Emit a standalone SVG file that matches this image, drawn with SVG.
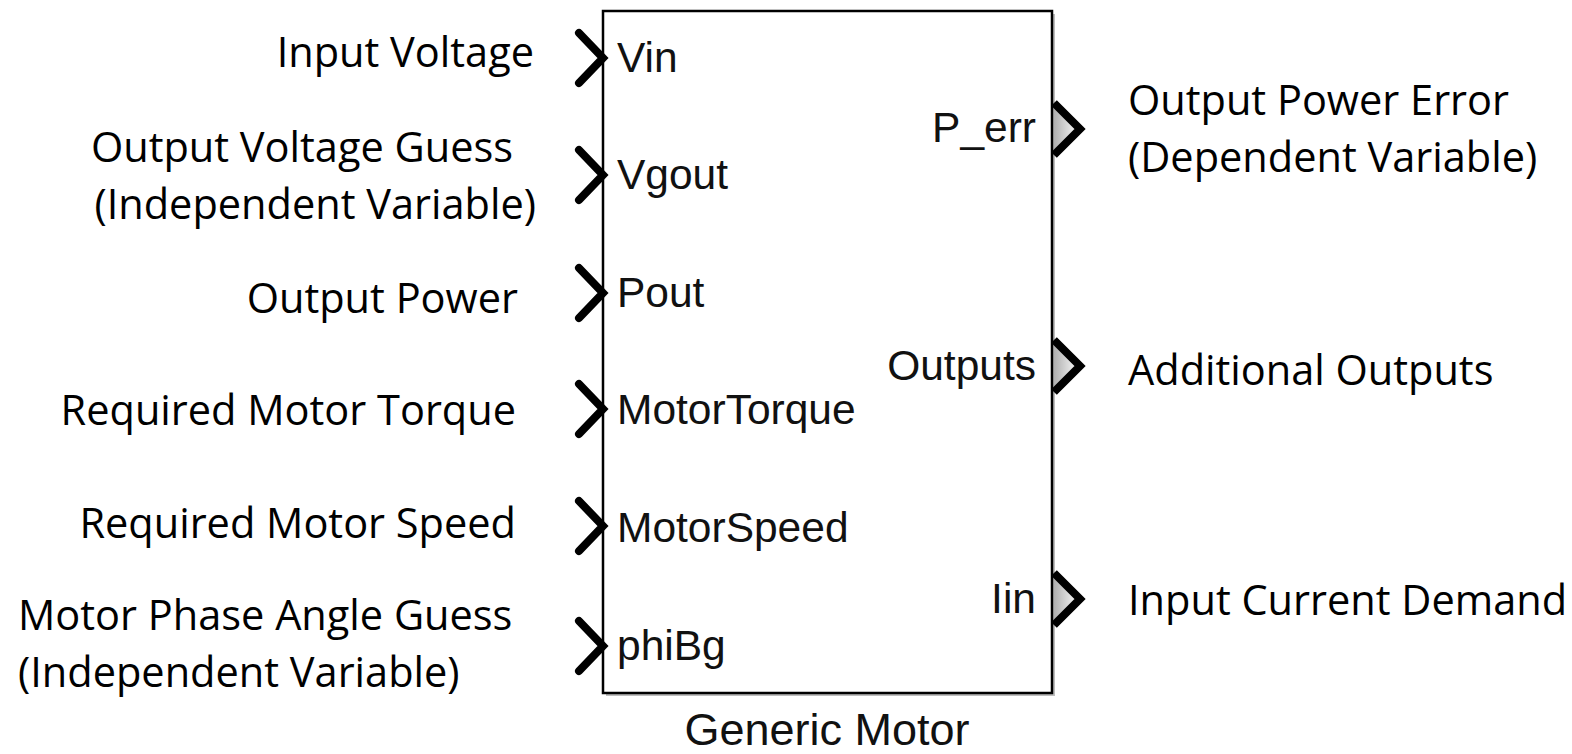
<svg xmlns="http://www.w3.org/2000/svg" width="1572" height="754" viewBox="0 0 1572 754">
<style>
.lbl{font-family:"Open Sans","Noto Sans",sans-serif;font-size:41.5px;fill:#000}
.port{font-family:"Liberation Sans",Arial,sans-serif;font-size:42.5px;fill:#111}
.title{font-family:"Liberation Sans",Arial,sans-serif;font-size:45px;fill:#111}
.chev{fill:none;stroke:#000;stroke-width:8;stroke-linecap:round;stroke-linejoin:miter}
.ochev{fill:url(#og);stroke:#000;stroke-width:8;stroke-linecap:butt;stroke-linejoin:miter}
</style>
<defs>
<linearGradient id="og" x1="0" y1="0" x2="1" y2="0">
<stop offset="0" stop-color="#b0b0b0"/>
<stop offset="1" stop-color="#ffffff"/>
</linearGradient>
</defs>
<rect width="1572" height="754" fill="#fff"/>
<g id="block">
<rect x="606" y="14" width="449" height="682" fill="#bdbdbd"/>
<rect x="603" y="11" width="449" height="682" fill="#fff" stroke="#000" stroke-width="2.5"/>
<text class="port" x="617" y="72">Vin</text>
<text class="port" x="617" y="189">Vgout</text>
<text class="port" x="617" y="307">Pout</text>
<text class="port" x="617" y="424">MotorTorque</text>
<text class="port" x="617" y="542">MotorSpeed</text>
<text class="port" x="617" y="660">phiBg</text>
<text class="port" x="1036" y="142" text-anchor="end">P_err</text>
<text class="port" x="1036" y="380" text-anchor="end">Outputs</text>
<text class="port" x="1036" y="613" text-anchor="end">Iin</text>
<text class="title" x="827" y="745" text-anchor="middle">Generic Motor</text>
</g>
<g id="connectors">
<polyline class="chev" points="579,33 603,58 579,83"/>
<polyline class="chev" points="579,150 603,175 579,200"/>
<polyline class="chev" points="579,268 603,293 579,318"/>
<polyline class="chev" points="579,384 603,409 579,434"/>
<polyline class="chev" points="579,501 603,526 579,551"/>
<polyline class="chev" points="579,621 603,646 579,671"/>
<polyline class="ochev" points="1054,103 1080,129 1054,155"/>
<polyline class="ochev" points="1054,340 1080,366 1054,392"/>
<polyline class="ochev" points="1054,573 1080,599 1054,625"/>
</g>
<g id="labels-in">
<text class="lbl" x="534" y="67" text-anchor="end">Input Voltage</text>
<text class="lbl" x="513" y="162" text-anchor="end">Output Voltage Guess</text>
<text class="lbl" x="536" y="219" text-anchor="end">(Independent Variable)</text>
<text class="lbl" x="518" y="313" text-anchor="end">Output Power</text>
<text class="lbl" x="516" y="425" text-anchor="end">Required Motor Torque</text>
<text class="lbl" x="516" y="538" text-anchor="end">Required Motor Speed</text>
<text class="lbl" x="18" y="630">Motor Phase Angle Guess</text>
<text class="lbl" x="18" y="687">(Independent Variable)</text>
</g>
<g id="labels-out">
<text class="lbl" x="1128" y="115">Output Power Error</text>
<text class="lbl" x="1128" y="172">(Dependent Variable)</text>
<text class="lbl" x="1128" y="385">Additional Outputs</text>
<text class="lbl" x="1128" y="615">Input Current Demand</text>
</g>
</svg>
